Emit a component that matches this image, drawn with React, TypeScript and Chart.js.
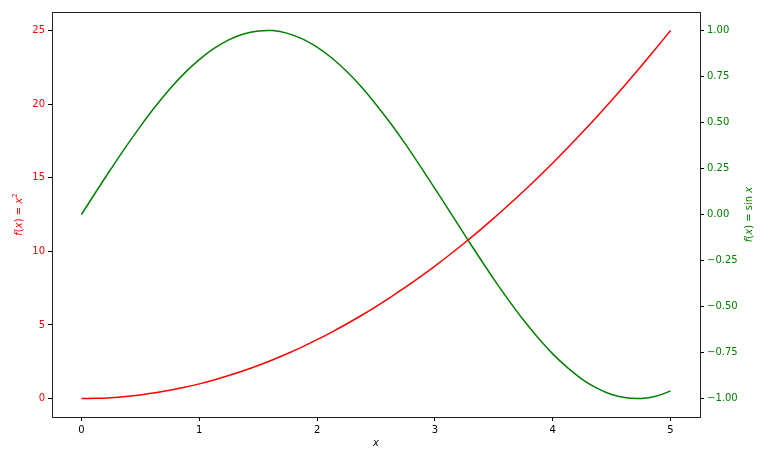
import { useEffect, useRef } from "react";
import { Chart, registerables } from "chart.js";

Chart.register(...registerables);

// x samples and the two curves
const xs = [
  0, 0.125, 0.25, 0.375, 0.5, 0.625, 0.75, 0.875, 1, 1.125, 1.25, 1.375, 1.5, 1.625,
  1.75, 1.875, 2, 2.125, 2.25, 2.375, 2.5, 2.625, 2.75, 2.875, 3, 3.125, 3.25, 3.375,
  3.5, 3.625, 3.75, 3.875, 4, 4.125, 4.25, 4.375, 4.5, 4.625, 4.75, 4.875, 5,
];
const squares = [
  0, 0.016, 0.063, 0.141, 0.25, 0.391, 0.563, 0.766, 1, 1.266, 1.563, 1.891, 2.25, 2.641,
  3.063, 3.516, 4, 4.516, 5.063, 5.641, 6.25, 6.891, 7.563, 8.266, 9, 9.766, 10.563, 11.391,
  12.25, 13.141, 14.063, 15.016, 16, 17.016, 18.063, 19.141, 20.25, 21.391, 22.563, 23.766, 25,
];
const sines = [
  0, 0.125, 0.247, 0.366, 0.479, 0.585, 0.682, 0.768, 0.841, 0.902, 0.949, 0.981, 0.997, 0.999,
  0.984, 0.954, 0.909, 0.85, 0.778, 0.694, 0.598, 0.494, 0.382, 0.263, 0.141, 0.017, -0.108, -0.231,
  -0.351, -0.465, -0.572, -0.669, -0.757, -0.832, -0.895, -0.943, -0.978, -0.996, -0.999, -0.987, -0.959,
];

const xTicks = [0, 1, 2, 3, 4, 5];
const leftTicks = [0, 5, 10, 15, 20, 25];
const rightTicks = [-1, -0.75, -0.5, -0.25, 0, 0.25, 0.5, 0.75, 1];

const RED = "#ff0000";
const GREEN = "#008000";
const FONT = "'DejaVu Sans', sans-serif";

type Seg = [string, boolean, boolean?]; // text, italic, superscript

function drawMath(ctx: CanvasRenderingContext2D, segs: Seg[], x: number, y: number, angle: number, color: string) {
  const fontOf = (s: Seg) => `${s[1] ? "italic " : ""}${s[2] ? 7 : 10}px ${FONT}`;
  let total = 0;
  for (const s of segs) {
    ctx.font = fontOf(s);
    total += ctx.measureText(s[0]).width;
  }
  ctx.save();
  ctx.translate(x, y);
  ctx.rotate(angle);
  ctx.fillStyle = color;
  ctx.textBaseline = "middle";
  ctx.textAlign = "left";
  let cx = -total / 2;
  for (const s of segs) {
    ctx.font = fontOf(s);
    ctx.fillText(s[0], cx, s[2] ? -4 : 0);
    cx += ctx.measureText(s[0]).width;
  }
  ctx.restore();
}

const framePlugin = {
  id: "frame",
  afterDraw(chart: any) {
    const { ctx, chartArea } = chart;
    const { left, right, top, bottom } = chartArea;
    ctx.save();
    ctx.strokeStyle = "#222";
    ctx.lineWidth = 1;
    ctx.strokeRect(left + 0.5, top + 0.5, right - left, bottom - top);
    ctx.restore();
    const midY = (top + bottom) / 2;
    drawMath(ctx, [["f", true], ["(", false], ["x", true], [") = ", false], ["x", true], ["2", false, true]], 19, midY, -Math.PI / 2, RED);
    drawMath(ctx, [["f", true], ["(", false], ["x", true], [") = sin ", false], ["x", true]], 749, midY, -Math.PI / 2, GREEN);
    drawMath(ctx, [["x", true]], (left + right) / 2, 443, 0, "#000");
  },
};

export default function App() {
  const ref = useRef<HTMLCanvasElement | null>(null);

  useEffect(() => {
    if (!ref.current) return;
    const tickGrid = { drawOnChartArea: false, drawTicks: true, tickLength: 4, color: "#000" };
    const chart = new Chart(ref.current, {
      type: "line",
      data: {
        datasets: [
          {
            label: "x^2",
            data: xs.map((x, i) => ({ x, y: squares[i] })),
            borderColor: RED,
            borderWidth: 1.5,
            pointRadius: 0,
            tension: 0.4,
            yAxisID: "y",
          },
          {
            label: "sin x",
            data: xs.map((x, i) => ({ x, y: sines[i] })),
            borderColor: GREEN,
            borderWidth: 1.5,
            pointRadius: 0,
            tension: 0.4,
            yAxisID: "y1",
          },
        ],
      },
      options: {
        animation: false,
        responsive: false,
        maintainAspectRatio: false,
        devicePixelRatio: 1,
        layout: { padding: { top: 12, left: 0, right: 0, bottom: 0 } },
        plugins: { legend: { display: false }, tooltip: { enabled: false } },
        scales: {
          x: {
            type: "linear",
            min: -0.25,
            max: 5.25,
            grid: tickGrid,
            border: { display: true, color: "#222" },
            afterBuildTicks: (s: any) => { s.ticks = xTicks.map((v) => ({ value: v })); },
            afterFit: (s: any) => { s.height = 44; },
            ticks: { color: "#000", font: { family: FONT, size: 10 }, padding: 3, maxRotation: 0, callback: (v: any) => String(v) },
          },
          y: {
            type: "linear",
            position: "left",
            min: -1.25,
            max: 26.25,
            grid: tickGrid,
            border: { display: true, color: "#222" },
            afterBuildTicks: (s: any) => { s.ticks = leftTicks.map((v) => ({ value: v })); },
            afterFit: (s: any) => { s.width = 52; },
            ticks: { color: RED, font: { family: FONT, size: 10 }, padding: 3, callback: (v: any) => String(v) },
          },
          y1: {
            type: "linear",
            position: "right",
            min: -1.1,
            max: 1.1,
            grid: tickGrid,
            border: { display: true, color: "#222" },
            afterBuildTicks: (s: any) => { s.ticks = rightTicks.map((v) => ({ value: v })); },
            afterFit: (s: any) => { s.width = 68; },
            ticks: {
              color: GREEN,
              font: { family: FONT, size: 10 },
              padding: 3,
              callback: (v: any) => Number(v).toFixed(2).replace("-", "\u2212"),
            },
          },
        },
      },
      plugins: [framePlugin],
    } as any);
    return () => chart.destroy();
  }, []);

  return (
    <div style={{ position: "absolute", left: 0, top: 0, width: 768, height: 461, background: "#fff" }}>
      <canvas ref={ref} width={768} height={461} style={{ width: 768, height: 461 }} />
    </div>
  );
}
